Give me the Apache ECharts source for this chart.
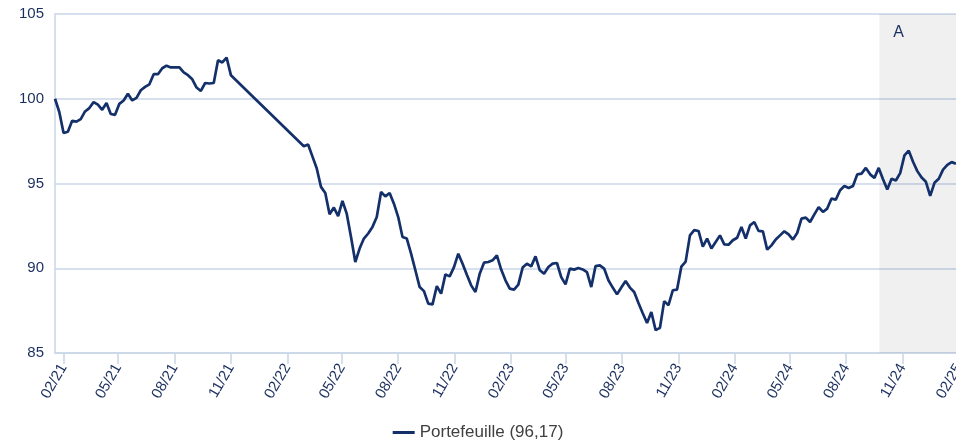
<!DOCTYPE html>
<html>
<head>
<meta charset="utf-8">
<script src="https://cdn.jsdelivr.net/npm/echarts@6/dist/echarts.min.js"></script>
<style>
html,body{margin:0;padding:0;background:#fff;}
#chart{width:956px;height:441px;}
</style>
</head>
<body>
<div id="chart"></div>
<script>
// Weekly observations, first block (Jan 2021 - Nov 2021)
const dates1 = ['2021-01-18','2021-01-25','2021-02-01','2021-02-08','2021-02-15','2021-02-22','2021-03-01','2021-03-08','2021-03-15','2021-03-22','2021-03-29','2021-04-05','2021-04-12','2021-04-19','2021-04-26','2021-05-03','2021-05-10','2021-05-17','2021-05-24','2021-05-31','2021-06-07','2021-06-14','2021-06-21','2021-06-28','2021-07-05','2021-07-12','2021-07-19','2021-07-26','2021-08-02','2021-08-09','2021-08-16','2021-08-23','2021-08-30','2021-09-06','2021-09-13','2021-09-20','2021-09-27','2021-10-04','2021-10-11','2021-10-18','2021-10-25','2021-11-01'];
const values1 = [100.0,99.22,97.98,98.05,98.7,98.65,98.8,99.25,99.45,99.8,99.65,99.35,99.75,99.1,99.05,99.7,99.9,100.3,99.9,100.05,100.5,100.7,100.85,101.45,101.45,101.8,101.95,101.85,101.85,101.85,101.55,101.39,101.15,100.66,100.46,100.93,100.9,100.93,102.27,102.14,102.43,101.39];

// Weekly observations, second block (Feb 2022 - Jan 2025)
const dates2 = ['2022-02-28','2022-03-07','2022-03-14','2022-03-21','2022-03-28','2022-04-04','2022-04-11','2022-04-18','2022-04-25','2022-05-02','2022-05-09','2022-05-16','2022-05-23','2022-05-30','2022-06-06','2022-06-13','2022-06-20','2022-06-27','2022-07-04','2022-07-11','2022-07-18','2022-07-25','2022-08-01','2022-08-08','2022-08-15','2022-08-22','2022-08-29','2022-09-05','2022-09-12','2022-09-19','2022-09-26','2022-10-03','2022-10-10','2022-10-17','2022-10-24','2022-10-31','2022-11-07','2022-11-14','2022-11-21','2022-11-28','2022-12-05','2022-12-12','2022-12-19','2022-12-26','2023-01-02','2023-01-09','2023-01-16','2023-01-23','2023-01-30','2023-02-06','2023-02-13','2023-02-20','2023-02-27','2023-03-06','2023-03-13','2023-03-20','2023-03-27','2023-04-03','2023-04-10','2023-04-17','2023-04-24','2023-05-01','2023-05-08','2023-05-15','2023-05-22','2023-05-29','2023-06-05','2023-06-12','2023-06-19','2023-06-26','2023-07-03','2023-07-10','2023-07-17','2023-07-24','2023-07-31','2023-08-07','2023-08-14','2023-08-21','2023-08-28','2023-09-04','2023-09-11','2023-09-18','2023-09-25','2023-10-02','2023-10-09','2023-10-16','2023-10-23','2023-10-30','2023-11-06','2023-11-13','2023-11-20','2023-11-27','2023-12-04','2023-12-11','2023-12-18','2023-12-25','2024-01-01','2024-01-08','2024-01-15','2024-01-22','2024-01-29','2024-02-05','2024-02-12','2024-02-19','2024-02-26','2024-03-04','2024-03-11','2024-03-18','2024-03-25','2024-04-01','2024-04-08','2024-04-15','2024-04-22','2024-04-29','2024-05-06','2024-05-13','2024-05-20','2024-05-27','2024-06-03','2024-06-10','2024-06-17','2024-06-24','2024-07-01','2024-07-08','2024-07-15','2024-07-22','2024-07-29','2024-08-05','2024-08-12','2024-08-19','2024-08-26','2024-09-02','2024-09-09','2024-09-16','2024-09-23','2024-09-30','2024-10-07','2024-10-14','2024-10-21','2024-10-28','2024-11-04','2024-11-11','2024-11-18','2024-11-25','2024-12-02','2024-12-09','2024-12-16','2024-12-23','2024-12-30','2025-01-06','2025-01-13','2025-01-20','2025-01-27'];
const values2 = [97.2,97.3,96.6,95.9,94.8,94.44,93.19,93.58,93.07,93.97,93.22,91.84,90.37,91.16,91.75,92.05,92.44,93.02,94.5,94.24,94.44,93.81,93.02,91.84,91.75,90.86,89.88,88.89,88.65,87.91,87.87,88.95,88.5,89.64,89.52,90.07,90.86,90.27,89.62,88.99,88.6,89.68,90.33,90.37,90.47,90.76,89.92,89.29,88.8,88.74,89.03,90.04,90.27,90.11,90.7,89.88,89.68,90.07,90.27,90.31,89.48,89.05,89.98,89.92,90.01,89.93,89.77,88.89,90.13,90.17,89.98,89.29,88.86,88.46,88.86,89.25,88.86,88.6,87.95,87.35,86.77,87.42,86.35,86.48,88.06,87.82,88.7,88.74,90.1,90.39,91.94,92.25,92.2,91.27,91.75,91.16,91.55,91.94,91.41,91.39,91.65,91.8,92.43,91.75,92.53,92.73,92.2,92.18,91.1,91.35,91.7,91.94,92.18,92.0,91.69,92.08,92.93,92.99,92.73,93.18,93.61,93.32,93.52,94.11,94.05,94.6,94.85,94.73,94.85,95.54,95.58,95.92,95.54,95.33,95.92,95.25,94.64,95.28,95.18,95.61,96.66,96.94,96.28,95.73,95.35,95.1,94.27,95.04,95.28,95.82,96.1,96.26,96.17];

const tickDates = ['2021-02-01','2021-05-01','2021-08-01','2021-11-01','2022-02-01','2022-05-01','2022-08-01','2022-11-01','2023-02-01','2023-05-01','2023-08-01','2023-11-01','2024-02-01','2024-05-01','2024-08-01','2024-11-01','2025-02-01'];
const yTicks = [85, 90, 95, 100, 105];
const seriesName = 'Portefeuille (96,17)';
const axisStart = '2021-01-18';
const axisEnd = '2025-02-01';
const zoneStart = '2024-09-24';
const zoneEnd = '2025-02-01';
const zoneLabel = 'A';

function ts(s){ const p = s.split('-'); return Date.UTC(+p[0], +p[1]-1, +p[2]); }
const data = [];
dates1.forEach((d,i)=>data.push([ts(d), values1[i]]));
dates2.forEach((d,i)=>data.push([ts(d), values2[i]]));
const tickVals = tickDates.map(ts);

const navy = '#1b2f5f';
const gridColor = '#c9d6e8';
const font = '"Liberation Sans", Arial, Helvetica, sans-serif';

const chart = echarts.init(document.getElementById('chart'), null, {renderer:'canvas'});
chart.setOption({
  animation: false,
  backgroundColor: '#ffffff',
  textStyle: {fontFamily: font},
  grid: {left: 55, right: -3, top: 14, bottom: 88, containLabel: false, outerBoundsMode: 'none'},
  legend: {
    top: 419, left: 'center',
    data: [seriesName],
    icon: 'rect', itemWidth: 22, itemHeight: 3, itemGap: 8,
    textStyle: {color: '#404040', fontSize: 17, fontFamily: font}
  },
  xAxis: {
    type: 'value',
    min: ts(axisStart),
    max: ts(axisEnd),
    axisLine: {show: true, lineStyle: {color: gridColor, width: 1.5}},
    axisTick: {show: true, length: 11, lineStyle: {color: gridColor, width: 1.5}, customValues: tickVals},
    splitLine: {show: false},
    axisLabel: {
      customValues: tickVals,
      rotate: 60, margin: 12,
      color: navy, fontSize: 15, fontFamily: font,
      hideOverlap: false, showMinLabel: true, showMaxLabel: true,
      formatter: function(v){
        const d = new Date(v);
        const m = d.getUTCMonth()+1, y = d.getUTCFullYear()%100;
        return (m<10?'0':'')+m+'/'+(y<10?'0':'')+y;
      }
    }
  },
  yAxis: {
    type: 'value', min: yTicks[0], max: yTicks[yTicks.length-1], interval: 5,
    axisLine: {show: true, lineStyle: {color: gridColor, width: 1.5}},
    axisTick: {show: false},
    splitLine: {show: true, lineStyle: {color: gridColor, width: 1.5}},
    axisLabel: {color: navy, fontSize: 15, margin: 11, fontFamily: font, padding: [4, 0, 0, 0]}
  },
  series: [{
    name: seriesName,
    type: 'line',
    data: data,
    showSymbol: false,
    symbol: 'none',
    lineStyle: {color: '#14306a', width: 2.7},
    itemStyle: {color: '#14306a'},
    markArea: {
      silent: true,
      itemStyle: {color: 'rgba(0,0,0,0.06)'},
      label: {show: true, position: [14, 11], color: navy, fontSize: 16, fontFamily: font},
      data: [[{name: zoneLabel, xAxis: ts(zoneStart)}, {xAxis: ts(zoneEnd)}]]
    }
  }]
});
</script>
</body>
</html>
